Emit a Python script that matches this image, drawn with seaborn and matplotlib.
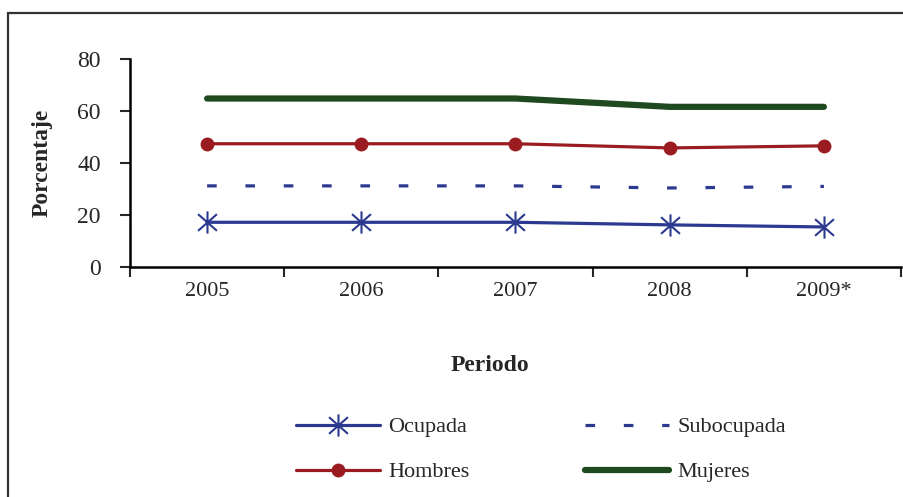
import matplotlib
matplotlib.use("Agg")
import matplotlib.pyplot as plt
from matplotlib.patches import Rectangle
from matplotlib.path import Path
import seaborn as sns
import pandas as pd

years = ["2005", "2006", "2007", "2008", "2009*"]
ocupada = [17.2, 17.2, 17.2, 16.2, 15.4]
subocupada = [31.2, 31.2, 31.2, 30.4, 31.0]
hombres = [47.4, 47.4, 47.4, 45.8, 46.6]
mujeres = [64.8, 64.8, 64.8, 61.6, 61.6]

blue = "#2b3990"
red = "#9b1c20"
green = "#1f4a1f"

# Excel-style asterisk: an X with a vertical bar through it
star = Path([(0, -1), (0, 1), (-0.85, -0.75), (0.85, 0.75), (-0.85, 0.75), (0.85, -0.75)],
            [Path.MOVETO, Path.LINETO, Path.MOVETO, Path.LINETO, Path.MOVETO, Path.LINETO])

sns.set_style("white")
plt.rcParams["font.family"] = ["Liberation Serif", "DejaVu Serif"]

df = pd.DataFrame({"Periodo": years, "Ocupada": ocupada, "Subocupada": subocupada,
                   "Hombres": hombres, "Mujeres": mujeres})

fig = plt.figure(figsize=(9.04, 4.97), dpi=100)
W, H = 904, 497
ax = fig.add_axes([130 / W, 1 - 267 / H, 771 / W, 208 / H])

sns.lineplot(data=df, x="Periodo", y="Mujeres", ax=ax, color=green, lw=4.5,
             solid_capstyle="round", label="Mujeres", sort=False)
sns.lineplot(data=df, x="Periodo", y="Hombres", ax=ax, color=red, lw=2.3,
             marker="o", markersize=10, markeredgewidth=0, label="Hombres", sort=False)
sns.lineplot(data=df, x="Periodo", y="Subocupada", ax=ax, color=blue, lw=2.3,
             dashes=(3, 9), label="Subocupada", sort=False)
sns.lineplot(data=df, x="Periodo", y="Ocupada", ax=ax, color=blue, lw=2.3,
             marker=star, markersize=16, markeredgewidth=1.5,
             markeredgecolor=blue, label="Ocupada", sort=False)

handles, labels = ax.get_legend_handles_labels()
ax.get_legend().remove()
order = ["Ocupada", "Hombres", "Subocupada", "Mujeres"]
hd = dict(zip(labels, handles))
fig.legend([hd[k] for k in order], order, ncol=2, frameon=False, fontsize=16,
           loc="upper left", bbox_to_anchor=(287 / W, 1 - 408 / H),
           handlelength=3.8, handletextpad=0.35, columnspacing=5.2,
           labelspacing=1.1, borderaxespad=0)

ax.set_ylim(0, 80)
ax.set_xlim(-0.5, 4.5)
ax.set_yticks([0, 20, 40, 60, 80])
ax.set_xticks([-0.5, 0.5, 1.5, 2.5, 3.5, 4.5])
ax.set_xticklabels([])
ax.set_xticks(range(5), minor=True)
ax.set_xticklabels(years, minor=True)
ax.tick_params(axis="x", which="major", direction="out", length=7, width=1.5, bottom=True)
ax.tick_params(axis="x", which="minor", length=0, pad=11, labelsize=16)
ax.tick_params(axis="y", direction="out", length=7, width=1.5, left=True, pad=14, labelsize=17)

for s in ["top", "right"]:
    ax.spines[s].set_visible(False)
for s in ["left", "bottom"]:
    ax.spines[s].set_linewidth(1.8)
    ax.spines[s].set_color("black")

ax.set_ylabel("Porcentaje", fontsize=17, fontweight="bold", labelpad=18)
ax.set_xlabel("Periodo", fontsize=17, fontweight="bold")
ax.xaxis.set_label_coords((490 - 130) / 771, (267 - 355) / 208)

fig.patches.append(Rectangle((8 / W, -0.1), 1.0, 1 - 13 / H + 0.1,
                             transform=fig.transFigure, fill=False,
                             edgecolor="#333333", lw=1.6))

fig.savefig("out.png", dpi=100)
